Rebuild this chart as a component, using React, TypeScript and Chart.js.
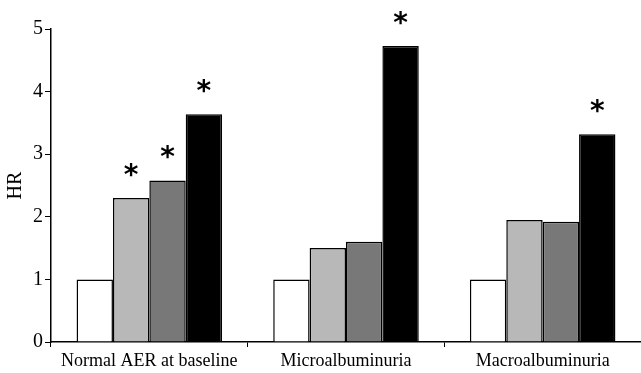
import React, { useEffect, useRef } from "react";
import { Chart, registerables } from "chart.js";

Chart.register(...registerables);

const categories = ["Normal AER at baseline", "Microalbuminuria", "Macroalbuminuria"];
const series1 = [1, 1, 1];
const series2 = [2.3, 1.5, 1.95];
const series3 = [2.58, 1.6, 1.92];
const series4 = [3.64, 4.73, 3.32];
const seriesNames = ["Group 1", "Group 2", "Group 3", "Group 4"];
const seriesColors = ["#ffffff", "#b8b8b8", "#787878", "#000000"];
// significance flags per series per category
const star1 = [false, false, false];
const star2 = [true, false, false];
const star3 = [true, false, false];
const star4 = [true, true, true];
const yTicks = [0, 1, 2, 3, 4, 5];

const starPlugin = {
  id: "stars",
  afterDatasetsDraw(chart: any) {
    const flags = [star1, star2, star3, star4];
    const ctx = chart.ctx;
    ctx.save();
    ctx.fillStyle = "#000";
    ctx.font = "bold 28px 'DejaVu Sans'";
    ctx.textAlign = "center";
    ctx.textBaseline = "alphabetic";
    flags.forEach((f, di) => {
      const meta = chart.getDatasetMeta(di);
      f.forEach((on, i) => {
        if (!on) return;
        const el = meta.data[i];
        ctx.fillText("*", el.x, el.y - 14);
      });
    });
    ctx.restore();
  },
};

export default function App() {
  const ref = useRef<HTMLCanvasElement>(null);
  useEffect(() => {
    document.body.style.margin = "0";
    const data = [series1, series2, series3, series4];
    const chart = new Chart(ref.current!, {
      type: "bar",
      data: {
        labels: categories,
        datasets: data.map((d, i) => ({
          label: seriesNames[i],
          data: d,
          backgroundColor: seriesColors[i],
          borderColor: "#000",
          borderWidth: 1.5,
          borderSkipped: "bottom",
          categoryPercentage: 0.74,
          barPercentage: 1.0,
        })),
      },
      options: {
        animation: false,
        responsive: false,
        maintainAspectRatio: false,
        layout: { padding: { top: 29, right: 0, left: 0, bottom: 0 } },
        plugins: { legend: { display: false }, tooltip: { enabled: false } },
        scales: {
          x: {
            offset: true,
            grid: {
              offset: true,
              drawOnChartArea: false,
              drawTicks: true,
              tickLength: 5,
              color: "#000",
              lineWidth: 1,
            },
            border: { color: "#000", width: 1.5 },
            ticks: {
              color: "#000",
              font: { family: "'Liberation Serif'", size: 18 },
              padding: 3,
              maxRotation: 0,
              autoSkip: false,
            },
            afterFit(scale: any) {
              scale.height = 31;
            },
          },
          y: {
            min: 0,
            max: 5,
            afterBuildTicks(scale: any) {
              scale.ticks = yTicks.map((v) => ({ value: v }));
            },
            grid: {
              drawOnChartArea: false,
              drawTicks: true,
              tickLength: 6,
              color: "#000",
            },
            border: { color: "#000", width: 1.5 },
            ticks: {
              color: "#000",
              font: { family: "'Liberation Serif'", size: 20 },
              padding: 2,
            },
            title: {
              display: true,
              text: "HR",
              color: "#000",
              font: { family: "'Liberation Serif'", size: 20 },
              padding: { top: 4, bottom: 0 },
            },
            afterFit(scale: any) {
              scale.width = 51;
            },
          },
        },
      },
      plugins: [starPlugin],
    });
    return () => chart.destroy();
  }, []);
  return (
    <div style={{ width: 641, height: 373 }}>
      <canvas ref={ref} width={641} height={373} style={{ display: "block" }} />
    </div>
  );
}
